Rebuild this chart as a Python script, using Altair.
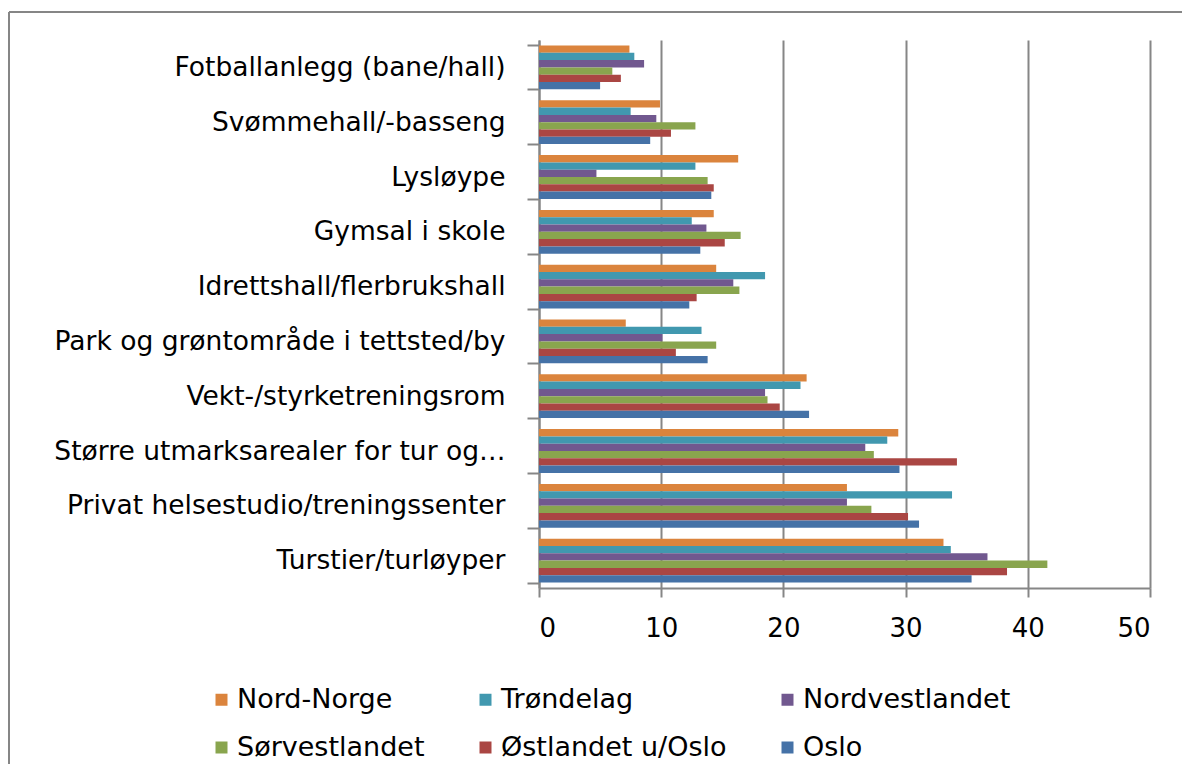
import altair as alt
import pandas as pd

categories = [
    "Fotballanlegg (bane/hall)",
    "Svømmehall/-basseng",
    "Lysløype",
    "Gymsal i skole",
    "Idrettshall/flerbrukshall",
    "Park og grøntområde i tettsted/by",
    "Vekt-/styrketreningsrom",
    "Større utmarksarealer for tur og…",
    "Privat helsestudio/treningssenter",
    "Turstier/turløyper",
]
series = ["Nord-Norge", "Trøndelag", "Nordvestlandet", "Sørvestlandet", "Østlandet u/Oslo", "Oslo"]
colors = ["#DB843D", "#4198AF", "#71588F", "#89A54E", "#AA4643", "#4572A7"]

nord_norge = [7.4, 9.9, 16.3, 14.3, 14.5, 7.1, 21.9, 29.4, 25.2, 33.1]
trondelag = [7.8, 7.5, 12.8, 12.5, 18.5, 13.3, 21.4, 28.5, 33.8, 33.7]
nordvestlandet = [8.6, 9.6, 4.7, 13.7, 15.9, 10.1, 18.5, 26.7, 25.2, 36.7]
sorvestlandet = [6.0, 12.8, 13.8, 16.5, 16.4, 14.5, 18.7, 27.4, 27.2, 41.6]
ostlandet = [6.7, 10.8, 14.3, 15.2, 12.9, 11.2, 19.7, 34.2, 30.2, 38.3]
oslo = [5.0, 9.1, 14.1, 13.2, 12.3, 13.8, 22.1, 29.5, 31.1, 35.4]

x_ticks = [0, 10, 20, 30, 40, 50]

rows = []
for s, vals in zip(series, [nord_norge, trondelag, nordvestlandet, sorvestlandet, ostlandet, oslo]):
    for c, v in zip(categories, vals):
        rows.append({"kategori": c, "region": s, "verdi": v})
df = pd.DataFrame(rows)

W, H = 611, 548
GRAY = "#868686"
FONT = "DejaVu Sans"

bars = alt.Chart(df).mark_bar().encode(
    x=alt.X(
        "verdi:Q",
        scale=alt.Scale(domain=[0, 50], nice=False),
        axis=alt.Axis(
            values=x_ticks, title=None, grid=True, gridColor=GRAY, gridWidth=2,
            domainColor=GRAY, domainWidth=2, tickColor=GRAY, tickWidth=2, tickSize=9,
            labelFont=FONT, labelFontSize=26, labelColor="black", labelPadding=18,
        ),
    ),
    y=alt.Y(
        "kategori:N", sort=categories,
        scale=alt.Scale(paddingInner=0.2, paddingOuter=0.1),
        axis=alt.Axis(
            title=None, grid=False, tickBand="extent", tickSize=12, tickColor=GRAY, tickWidth=2,
            domainColor=GRAY, domainWidth=2, labelFont=FONT, labelFontSize=26.5,
            labelColor="black", labelLimit=700, labelPadding=22,
        ),
    ),
    yOffset=alt.YOffset("region:N", sort=series, scale=alt.Scale(domain=series, paddingInner=0, paddingOuter=0)),
    color=alt.Color(
        "region:N", sort=series, scale=alt.Scale(domain=series, range=colors),
        legend=alt.Legend(
            orient="none", legendX=-331, legendY=646, columns=3, direction="horizontal",
            title=None, symbolType="square", symbolSize=144, symbolStrokeWidth=0, symbolOpacity=1,
            labelFont=FONT, labelFontSize=27, labelColor="black", columnPadding=47,
            rowPadding=20, gridAlign="each", labelOffset=2, labelLimit=500,
        ),
    ),
)

frame_top = alt.Chart(alt.Data(values=[{}])).mark_rule(color=GRAY, strokeWidth=2).encode(
    x=alt.value(-530), x2=alt.value(W + 40), y=alt.value(-28)
)
frame_left = alt.Chart(alt.Data(values=[{}])).mark_rule(color=GRAY, strokeWidth=2).encode(
    x=alt.value(-530), y=alt.value(-28), y2=alt.value(H + 200)
)

chart = alt.layer(bars, frame_top, frame_left).properties(
    width=W, height=H,
    autosize=alt.AutoSizeParams(type="none"),
    padding={"left": 531, "top": 32, "right": 32, "bottom": 176},
).configure_view(stroke=None)

chart.save("out.html", embed_options={"renderer": "svg", "actions": False})
